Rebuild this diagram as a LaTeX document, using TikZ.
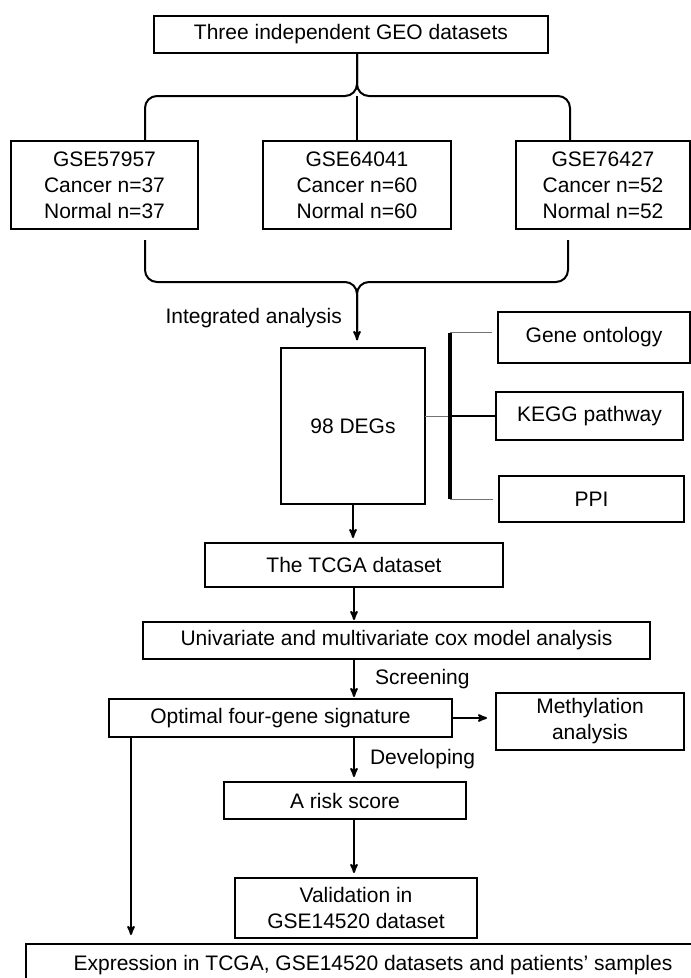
\documentclass[tikz,border=0pt]{standalone}
\usepackage{fontspec}
\setmainfont{Liberation Sans}
\usetikzlibrary{arrows,positioning}
\tikzset{
    %Define standard arrow tip
    >=stealth',
    box/.style={
      rectangle,
      draw=black, line width=2.4pt,
      inner sep=0pt, outer sep=0pt,
      align=center,
      font=\fontsize{21}{26}\selectfont},
    lbl/.style={
      inner sep=0pt,
      font=\fontsize{21}{26}\selectfont},
    link/.style={
      draw=black, line width=2pt},
    brace/.style={
      link,
      rounded corners=12pt},
    bar/.style={
      draw=black, line width=3.5pt},
    faint/.style={
      draw=black!55, line width=1pt},
}

\begin{document}
\begin{tikzpicture}[x=1pt, y=-1pt]
    \useasboundingbox (0,0) rectangle (691,978);
    % datasets
    \node (geo) [box, minimum width=394pt, minimum height=37pt] at (351,34.5)
          {Three independent GEO datasets};
    \node (gse2) [box, minimum width=188pt, minimum height=88pt] [below=88pt of geo, xshift=6pt]
          {GSE64041\\Cancer n=60\\Normal n=60};
    \node (gse1) [box, minimum width=187pt, minimum height=88pt] [left=65pt of gse2]
          {GSE57957\\Cancer n=37\\Normal n=37};
    \node (gse3) [box, minimum width=174pt, minimum height=88pt] [right=65pt of gse2]
          {GSE76427\\Cancer n=52\\Normal n=52};
    % DEGs and enrichment
    \node (degs) [box, minimum width=144pt, minimum height=156pt] [below=119pt of gse2, xshift=-4pt]
          {98 DEGs};
    \node (kegg) [box, minimum width=187pt, minimum height=48pt] [right=71pt of degs, yshift=10pt]
          {KEGG pathway};
    \node (go) [box, minimum width=192pt, minimum height=51pt] [above=29pt of kegg, xshift=4.5pt]
          {Gene ontology};
    \node (ppi) [box, minimum width=185pt, minimum height=46pt] [below=36pt of kegg, xshift=2pt]
          {PPI};
    % TCGA and model
    \node (tcga) [box, minimum width=298pt, minimum height=44pt] [below=39pt of degs, xshift=1pt]
          {The TCGA dataset};
    \node (cox) [box, minimum width=507pt, minimum height=37pt] [below=35pt of tcga, xshift=42.5pt]
          {Univariate and multivariate cox model analysis};
    \node (sig) [box, minimum width=343pt, minimum height=38pt] [below=40pt of cox, xshift=-116pt]
          {Optimal four-gene signature};
    \node (meth) [box, minimum width=188pt, minimum height=57pt] [right=44pt of sig, yshift=-3.5pt]
          {Methylation\\analysis};
    \node (risk) [box, minimum width=242pt, minimum height=37pt] [below=45pt of sig, xshift=64.5pt]
          {A risk score};
    \node (valid) [box, minimum width=242pt, minimum height=60pt] [below=59pt of risk, xshift=11pt]
          {Validation in\\GSE14520 dataset};
    \node (expr) [box, minimum width=694pt, minimum height=42pt] [below=6pt of valid, xshift=17pt]
          {Expression in TCGA, GSE14520 datasets and patients’ samples};

    % upper brace
    \coordinate (tip) at (geo.south -| gse2.north);
    \coordinate (split) at ([yshift=-43pt]tip);
    \draw[brace] ([xshift=-53pt]gse1.north east) |- (split) -- (tip);
    \draw[brace] ([xshift=54pt]gse3.north west) |- (split) -- (tip);
    \draw[link] (split) -- (gse2.north);

    % lower brace
    \coordinate (merge) at ([yshift=-53pt]gse2.south);
    \draw[brace, shorten >=8pt] ([xshift=-53pt,yshift=-11pt]gse1.south east) |- (merge) -- (merge |- degs.north);
    \draw[brace, ->, shorten >=8pt] ([xshift=52pt,yshift=-11pt]gse3.south west) |- (merge) -- (merge |- degs.north);
    \node (integ) [lbl, anchor=east] at ([xshift=-15pt,yshift=-36pt]merge)
          {Integrated analysis};

    % bracket to enrichment boxes
    \coordinate (bkx) at ([xshift=25pt]degs.east);
    \coordinate (bka) at (bkx |- go.west);
    \coordinate (bktop) at ([yshift=5pt]bka);
    \coordinate (bkbot) at (bkx |- ppi.west);
    \draw[faint, shorten >=6pt] (bktop) -- (bktop -| go.west);
    \draw[faint, shorten >=6pt] (bkbot) -- (bkbot -| ppi.west);
    \draw[faint] (degs.east |- kegg.west) -- (bkx |- kegg.west);
    \draw[link, line width=2.5pt] (bkx |- kegg.west) -- (kegg.west);
    \draw[bar] (bktop) -- (bkbot);

    % main flow
    \draw[link, ->, shorten >=5pt] (degs.south) -- (degs.south |- tcga.north);
    \draw[link, ->, shorten >=2pt] (tcga.south) -- (tcga.south |- cox.north);
    \draw[link, ->, shorten >=2pt] (tcga.south |- cox.south) -- (tcga.south |- sig.north)
          node [lbl, midway, right=20pt] {Screening};
    \draw[link, ->, shorten >=5pt] (tcga.south |- sig.south) -- (tcga.south |- risk.north)
          node [lbl, midway, right=15pt] {Developing};
    \draw[link, ->, shorten >=5pt] (tcga.south |- risk.south) -- (tcga.south |- valid.north);
    \draw[link, ->, shorten >=9pt] (sig.east) -- (sig.east -| meth.west);
    \coordinate (sigfoot) at ([xshift=22pt]sig.south west);
    \draw[link, ->, shorten >=9pt] (sigfoot) -- (sigfoot |- expr.north);
\end{tikzpicture}
\end{document}
